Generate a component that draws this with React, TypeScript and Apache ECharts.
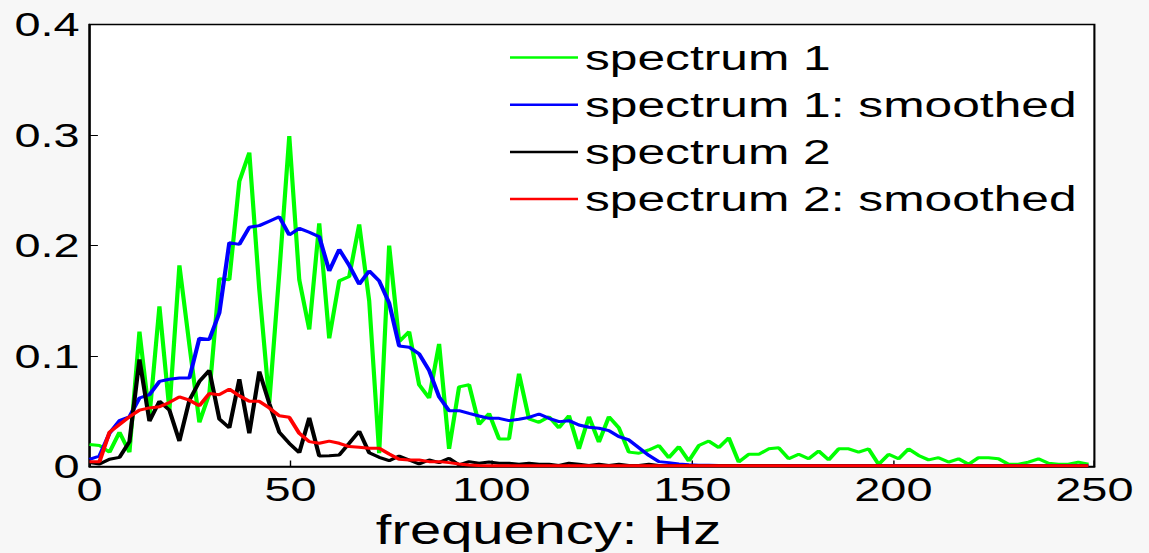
import React, { useEffect, useRef } from "react";
import * as echarts from "echarts";

// The reference is stretched horizontally; reproduce by scaling the chart div.
const STRETCH = 1.4;
const PAGE_W = 1149;
const PAGE_H = 553;

const FREQ_STEP = 2.485; // Hz between spectral bins
const seriesNames = ["spectrum 1", "spectrum 1: smoothed", "spectrum 2", "spectrum 2: smoothed"];
const seriesColors = ["#00ff00", "#0000ff", "#000000", "#ff0000"];

const spectrum1 = [
  0.020, 0.019, 0.013, 0.031, 0.013, 0.122, 0.045, 0.145, 0.051, 0.182,
  0.110, 0.040, 0.066, 0.170, 0.169, 0.258, 0.284, 0.160, 0.058, 0.175,
  0.299, 0.169, 0.124, 0.220, 0.116, 0.168, 0.172, 0.219, 0.150, 0.012,
  0.200, 0.113, 0.122, 0.074, 0.062, 0.111, 0.016, 0.072, 0.074, 0.038,
  0.048, 0.025, 0.025, 0.084, 0.043, 0.040, 0.045, 0.035, 0.046, 0.016,
  0.045, 0.022, 0.045, 0.035, 0.013, 0.012, 0.015, 0.019, 0.008, 0.018,
  0.005, 0.019, 0.023, 0.017, 0.026, 0.004, 0.011, 0.011, 0.016, 0.017,
  0.007, 0.011, 0.007, 0.014, 0.006, 0.016, 0.016, 0.013, 0.016, 0.002,
  0.011, 0.007, 0.016, 0.010, 0.006, 0.008, 0.004, 0.007, 0.002, 0.008,
  0.008, 0.007, 0.002, 0.002, 0.004, 0.007, 0.003, 0.002, 0.002, 0.004,
  0.002,
];

const spectrum1Smoothed = [
  0.0065, 0.0095, 0.030, 0.0415, 0.045, 0.062, 0.065, 0.077, 0.079, 0.080,
  0.080, 0.116, 0.115, 0.139, 0.2025, 0.201, 0.2165, 0.218, 0.222, 0.226,
  0.2095, 0.2155, 0.212, 0.208, 0.177, 0.1965, 0.182, 0.165, 0.177, 0.168,
  0.148, 0.109, 0.108, 0.102, 0.087, 0.063, 0.0505, 0.0505, 0.048, 0.0457,
  0.0436, 0.0436, 0.0415, 0.0427, 0.0445, 0.0475, 0.0436, 0.0406, 0.0415, 0.0376,
  0.0355, 0.0346, 0.0324, 0.027, 0.024, 0.017, 0.010, 0.0044, 0.0035, 0.0023,
  0.0015, 0.0012, 0.0011, 0.001, 0.001, 0.001, 0.001, 0.001, 0.001, 0.001,
  0.001, 0.001, 0.001, 0.001, 0.001, 0.001, 0.001, 0.001, 0.001, 0.001,
  0.001, 0.001, 0.001, 0.001, 0.001, 0.001, 0.001, 0.001, 0.001, 0.001,
  0.001, 0.001, 0.001, 0.001, 0.001, 0.001, 0.001, 0.001, 0.001, 0.001,
  0.001,
];

const spectrum2 = [
  0.0035, 0.0023, 0.0065, 0.0083, 0.0225, 0.097, 0.041, 0.059, 0.051, 0.023,
  0.060, 0.077, 0.087, 0.043, 0.035, 0.079, 0.030, 0.086, 0.057, 0.031,
  0.021, 0.0125, 0.044, 0.0095, 0.0098, 0.0104, 0.021, 0.032, 0.0125, 0.0083,
  0.0053, 0.0095, 0.0059, 0.0023, 0.0059, 0.0035, 0.0074, 0.0014, 0.0044, 0.003,
  0.004, 0.003, 0.003, 0.002, 0.003, 0.002, 0.002, 0.001, 0.003, 0.002,
  0.001, 0.002, 0.001, 0.002, 0.001, 0.001, 0.002, 0.001, 0.001, 0.001,
  0.001, 0.0008, 0.0008, 0.0008, 0.0008, 0.0008, 0.0008, 0.0008, 0.0008, 0.0008,
  0.0006, 0.0006, 0.0006, 0.0006, 0.0006, 0.0006, 0.0006, 0.0006, 0.0006, 0.0006,
  0.0005, 0.0005, 0.0005, 0.0005, 0.0005, 0.0005, 0.0005, 0.0005, 0.0005, 0.0005,
  0.0005, 0.0005, 0.0005, 0.0005, 0.0005, 0.0005, 0.0005, 0.0005, 0.0005, 0.0005,
  0.0005,
];

const spectrum2Smoothed = [
  0.0044, 0.0044, 0.031, 0.038, 0.045, 0.051, 0.053, 0.054, 0.058, 0.063,
  0.060, 0.055, 0.066, 0.065, 0.070, 0.064, 0.059, 0.059, 0.053, 0.046,
  0.0445, 0.030, 0.0225, 0.021, 0.023, 0.021, 0.018, 0.0174, 0.0165, 0.0165,
  0.0113, 0.0065, 0.0059, 0.0059, 0.0044, 0.0044, 0.0035, 0.0023, 0.0014, 0.0008,
  0.0006, 0.0006, 0.0006, 0.0006, 0.0006, 0.0006, 0.0006, 0.0006, 0.0006, 0.0006,
  0.0006, 0.0006, 0.0006, 0.0006, 0.0006, 0.0006, 0.0006, 0.0006, 0.0006, 0.0006,
  0.0006, 0.0006, 0.0006, 0.0006, 0.0006, 0.0006, 0.0006, 0.0006, 0.0006, 0.0006,
  0.0006, 0.0006, 0.0006, 0.0006, 0.0006, 0.0006, 0.0006, 0.0006, 0.0006, 0.0006,
  0.0006, 0.0006, 0.0006, 0.0006, 0.0006, 0.0006, 0.0006, 0.0006, 0.0006, 0.0006,
  0.0006, 0.0006, 0.0006, 0.0006, 0.0006, 0.0006, 0.0006, 0.0006, 0.0006, 0.0006,
  0.0006,
];

const allSeries = [spectrum1, spectrum1Smoothed, spectrum2, spectrum2Smoothed];

export default function App() {
  const ref = useRef<HTMLDivElement>(null);

  useEffect(() => {
    if (!ref.current) return;
    const chart = echarts.init(ref.current, null, { renderer: "svg" });
    const S = STRETCH;
    const font = "'Liberation Sans', Arial, Helvetica, sans-serif";
    chart.setOption({
      animation: false,
      backgroundColor: "#f7f7f7",
      textStyle: { fontFamily: font },
      grid: {
        left: 89.5 / S,
        right: 55 / S,
        top: 24.5,
        bottom: 86.5,
        outerBoundsMode: "none",
        containLabel: false,
        show: true,
        backgroundColor: "#ffffff",
        borderColor: "#000000",
        borderWidth: 1.5,
      },
      legend: {
        orient: "vertical",
        left: 503 / S,
        top: 34.5,
        itemWidth: 68 / S,
        itemHeight: 2.5,
        icon: "rect",
        itemGap: 11.2,
        textStyle: { fontSize: 35.5, color: "#000", fontFamily: font },
        data: seriesNames,
      },
      xAxis: {
        type: "value",
        min: 0,
        max: 250,
        interval: 50,
        name: "frequency: Hz",
        nameLocation: "middle",
        nameGap: 46,
        nameMoveOverlap: false,
        nameTextStyle: {
          fontSize: 40,
          lineHeight: 36,
          color: "#000",
          fontFamily: font,
          padding: [0, 62, 0, 0],
        },
        axisLine: { show: true, lineStyle: { color: "#000", width: 1.5 } },
        axisTick: { show: true, inside: true, length: 6, lineStyle: { color: "#000", width: 1 } },
        axisLabel: { fontSize: 33.5, color: "#000", margin: 6, fontFamily: font },
        splitLine: { show: false },
      },
      yAxis: {
        type: "value",
        min: 0,
        max: 0.4,
        interval: 0.1,
        axisLine: { show: true, lineStyle: { color: "#000", width: 1.5 } },
        axisTick: { show: true, inside: true, length: 6, lineStyle: { color: "#000", width: 1 } },
        axisLabel: { fontSize: 33.5, color: "#000", margin: 7, fontFamily: font },
        splitLine: { show: false },
      },
      series: allSeries.map((vals, k) => ({
        name: seriesNames[k],
        type: "line",
        symbol: "none",
        data: vals.map((v, i) => [i * FREQ_STEP, v]),
        lineStyle: { color: seriesColors[k], width: 3 },
        itemStyle: { color: seriesColors[k] },
        z: 2 + k,
      })),
    });
    return () => chart.dispose();
  }, []);

  return (
    <div
      style={{
        position: "fixed",
        left: 0,
        top: 0,
        width: PAGE_W,
        height: PAGE_H,
        background: "#f7f7f7",
        overflow: "hidden",
      }}
    >
      <div
        ref={ref}
        style={{
          width: PAGE_W / STRETCH,
          height: PAGE_H,
          transform: `scaleX(${STRETCH})`,
          transformOrigin: "0 0",
        }}
      />
    </div>
  );
}
